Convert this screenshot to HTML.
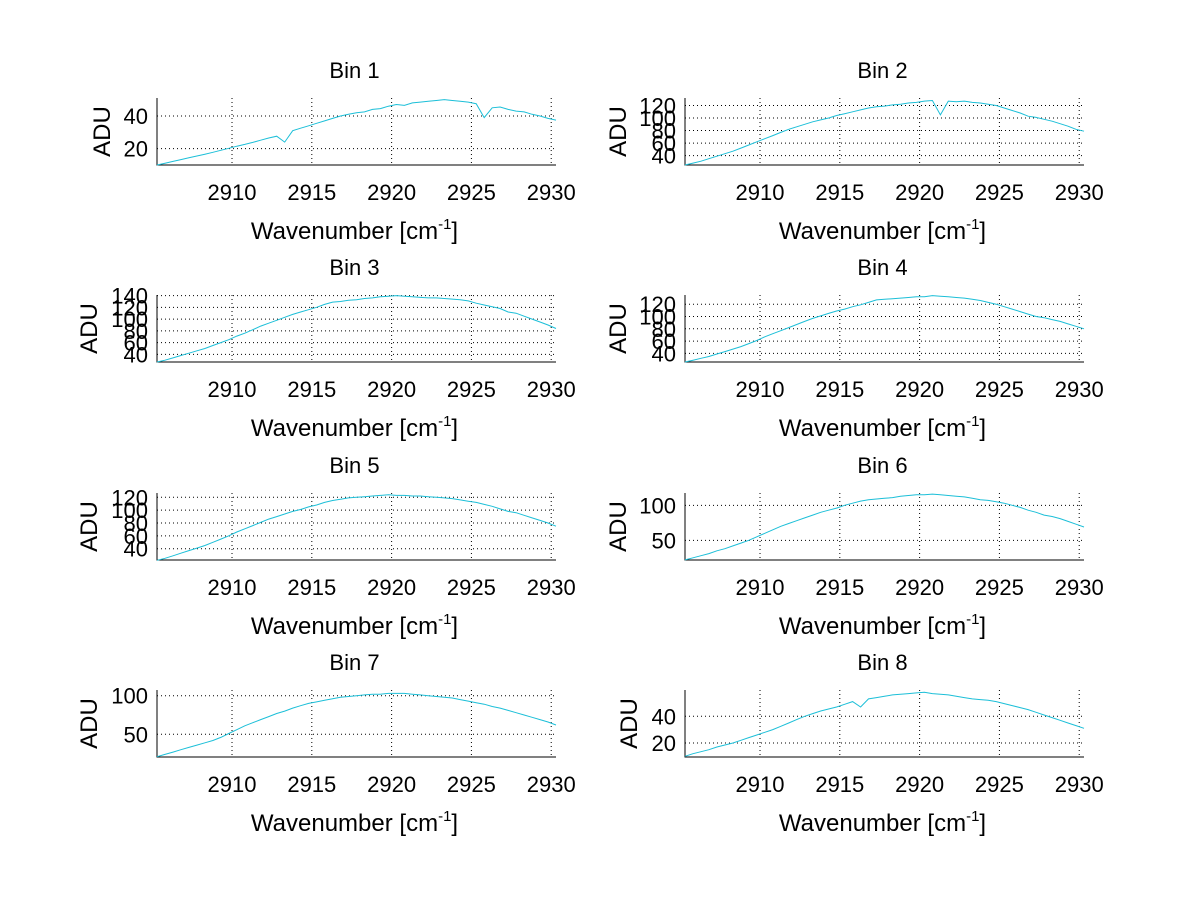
<!DOCTYPE html>
<html><head><meta charset="utf-8"><style>
body{margin:0;background:#fff;}
svg{display:block;font-family:"Liberation Sans",Arial,sans-serif;}
</style></head><body>
<svg id="fig" width="1200" height="901" viewBox="0 0 1200 901" xmlns="http://www.w3.org/2000/svg">
<rect width="1200" height="901" fill="#fff"/>
</svg>
<script>
const wavenumbers = [2905.3,2905.8,2906.3,2906.8,2907.3,2907.8,2908.3,2908.8,2909.3,2909.8,2910.3,2910.8,2911.3,2911.8,2912.3,2912.8,2913.3,2913.8,2914.3,2914.8,2915.3,2915.8,2916.3,2916.8,2917.3,2917.8,2918.3,2918.8,2919.3,2919.8,2920.3,2920.8,2921.3,2921.8,2922.3,2922.8,2923.3,2923.8,2924.3,2924.8,2925.3,2925.8,2926.3,2926.8,2927.3,2927.8,2928.3,2928.8,2929.3,2929.8,2930.3];
const bin1 = [10,11.1,12.2,13.3,14.4,15.5,16.6,17.8,19,20.2,21.5,22.6,23.8,25.2,26.5,27.6,24,31,32.5,34,35.5,37,38.5,40,41,42,42.5,44,44.5,46,47,46.5,48,48.5,49,49.5,50,49.5,49,48.5,47.5,39,45,45.5,44,43,42.5,41,40,38.5,37.5];
const bin2 = [25,28,31,35,39,43,47,52,57,62,67,72,77,82,86,90,94,97,100,104,107,110,113,116,118,119,121,122,124,125,127,128,105,127,126,127,125,124,122,120,116,112,108,103,101,98,95,91,87,82,79];
const bin3 = [27,30,34,38,42,46,50,55,60,65,71,76,82,88,93,98,103,108,112,116,120,125,129,130,132,133,135,136,138,139,140,139,138,137,136,136,135,134,133,131,127,124,121,118,112,110,105,100,95,90,84];
const bin4 = [26,29,32,35,39,43,47,51,56,61,67,72,77,82,87,92,97,101,105,109,112,116,119,123,127,128,129,130,131,132,132,134,133,132,131,130,128,126,123,120,116,112,108,104,100,98,95,92,88,84,80];
const bin5 = [22,25,29,33,37,41,45,50,55,60,66,71,76,81,86,90,94,98,101,105,108,112,115,117,119,120,121,122,123,124,123,123,122,122,121,120,119,118,116,114,112,109,106,102,98,96,92,88,84,80,75];
const bin6 = [22,25,28,31,35,38,42,46,50,55,60,65,70,74,78,82,86,90,93,96,100,103,106,108,109,110,111,113,114,115,115,116,115,114,113,112,110,108,107,105,103,100,97,93,90,86,84,81,77,73,69];
const bin7 = [21,24,27,30,33,36,39,42,46,51,56,61,65,69,73,77,80,84,87,90,92,94,96,98,99,100,101,102,102,103,103,103,102,101,100,99,98,97,95,93,91,89,86,84,81,78,75,72,69,66,62];
const bin8 = [10,12,13.5,15,17,18.5,20,22,24,26,28,30,32.5,35,37.5,40,42,44,45.5,47,49,51,47,53,54,55,56,56.5,57,57.5,58,57,56.5,56,55,54,53,52.5,52,51,49.5,48,46.5,45,43,41,39,37,35,33,31];
const xTicks = [2910,2915,2920,2925,2930];
const yTicks1 = [20,40];
const yTicks2 = [40,60,80,100,120];
const yTicks3 = [40,60,80,100,120,140];
const yTicks4 = [40,60,80,100,120];
const yTicks5 = [40,60,80,100,120];
const yTicks6 = [50,100];
const yTicks7 = [50,100];
const yTicks8 = [20,40];
const yRanges = [[10,51],[25,132],[27,141],[26,135],[22.4,126.7],[21.9,117.6],[20.6,107.4],[9.5,59.7]];

const NS="http://www.w3.org/2000/svg";
const svg=document.getElementById('fig');
function mk(tag,attrs,parent){const e=document.createElementNS(NS,tag);for(const k in attrs)e.setAttribute(k,attrs[k]);(parent||svg).appendChild(e);return e;}

const series=[bin1,bin2,bin3,bin4,bin5,bin6,bin7,bin8];
const yTicksAll=[yTicks1,yTicks2,yTicks3,yTicks4,yTicks5,yTicks6,yTicks7,yTicks8];
const rowTops=[98,295,493,690];
const H=67;
const colLeft=[157,685], W=399;
const xMin=2905.3,xMax=2930.3;
const aduX=[101,617,88,617,88,617,88,628];

for(let b=0;b<8;b++){
  const r=Math.floor(b/2), c=b%2;
  const L=colLeft[c], T=rowTops[r], B=T+H, R=L+W;
  const [y0,y1]=yRanges[b];
  const sx=v=>L+(v-xMin)/(xMax-xMin)*W;
  const sy=v=>B-(v-y0)/(y1-y0)*H;
  const g=mk('g',{});
  
  
  xTicks.forEach(t=>{
    const l=mk('line',{x1:sx(t),x2:sx(t),y1:T,y2:B,stroke:'#000','stroke-width':1,'stroke-dasharray':'1 3'},g);
    
    
    const tx=mk('text',{x:sx(t),y:B+35,'text-anchor':'middle','font-size':22,fill:'#000'},g);
    tx.textContent=t;
    
    
  });
  yTicksAll[b].forEach(t=>{
    const l=mk('line',{x1:L,x2:R,y1:sy(t),y2:sy(t),stroke:'#000','stroke-width':1,'stroke-dasharray':'1 3'},g);
    
    
    const tx=mk('text',{x:L-9,y:sy(t)+8,'text-anchor':'end','font-size':22,fill:'#000'},g);
    tx.textContent=t;
    
    
  });
  const ax=mk('path',{d:`M${L},${T}V${B}H${R}`,fill:'none',stroke:'#000','stroke-width':1},g);
  
  
  const d=series[b].map((v,i)=>(i?'L':'M')+sx(wavenumbers[i]).toFixed(1)+','+sy(v).toFixed(1)).join('');
  const p=mk('path',{d:d,fill:'none',stroke:'#1cbfd8','stroke-width':1},g);
  
  
  const ti=mk('text',{x:L+W/2-2,y:T-20,'text-anchor':'middle','font-size':22,fill:'#000'},g);
  ti.textContent='Bin '+(b+1);
  
  
  const xl=mk('text',{x:L+W/2-2,y:B+74,'text-anchor':'middle','font-size':24,fill:'#000'},g);
  
  
  const s1=mk('tspan',{},xl); s1.textContent='Wavenumber [cm';
  const s2=mk('tspan',{'font-size':15,dy:-10},xl); s2.textContent='-1';
  const s3=mk('tspan',{dy:10},xl); s3.textContent=']';
  const yl=mk('text',{x:0,y:0,'text-anchor':'middle','font-size':24,fill:'#000',transform:`translate(${aduX[b]+9},${T+H/2}) rotate(-90)`},g);
  yl.textContent='ADU';
  
  
}
</script>
</body></html>
